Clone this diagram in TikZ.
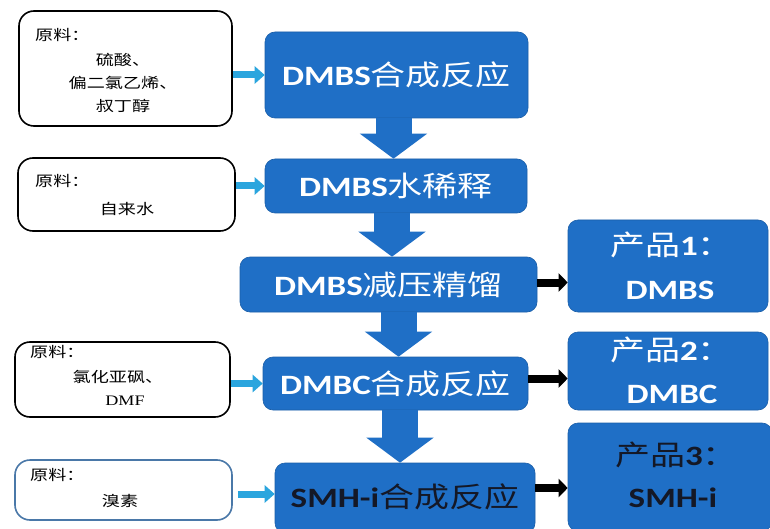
\documentclass[tikz,border=0pt]{standalone}
\usepackage{fontspec}
\usepackage{graphicx}
\setmainfont{Carlito}
\newfontfamily\cjk{Noto Sans CJK SC}
\newfontfamily\lserif{Liberation Serif}
\usetikzlibrary{arrows.meta,calc}
\definecolor{boxblue}{HTML}{1F6FC6}
\definecolor{arrcyan}{HTML}{2AA5DE}
\definecolor{inborder}{HTML}{4A78A8}
\definecolor{darktext}{HTML}{141826}
\newcommand{\stretchx}[1]{\scalebox{1.25}[1]{#1}}
\begin{document}
\begin{tikzpicture}[x=1pt,y=-1pt,
  bluebox/.style={fill=boxblue, draw=boxblue!85!black, line width=0.6pt, rounded corners=10pt, inner sep=0pt},
  inbox/.style={draw=black, line width=1.6pt, rounded corners=15pt, fill=white, inner sep=0pt},
  bigtext/.style={inner sep=0pt, text=white, font=\fontsize{28}{30}\selectfont},
  smalltext/.style={inner sep=0pt, text=black, font=\fontsize{14.5}{23}\selectfont},
  flowarrow/.style={draw=boxblue, line width=36pt, -{Triangle[width=66pt,length=25pt]}},
  feedarrow/.style={draw=arrcyan, line width=7pt, -{Triangle[width=17pt,length=10pt]}},
  outarrow/.style={draw=black, line width=8pt, -{Triangle[width=18pt,length=9pt]}}]
\useasboundingbox (0,0) rectangle (770,529);
\fill[white] (0,0) rectangle (770,529);

% input boxes
\node[inbox, minimum width=213pt, minimum height=115pt] (L1) at (125.5,68.5) {};
\node[inbox, minimum width=217pt, minimum height=73pt] (L2) at (126.5,194.5) {};
\node[inbox, minimum width=215pt, minimum height=75pt] (L3) at (122.5,379.5) {};
\node[inbox, draw=inborder, minimum width=217pt, minimum height=60pt] (L4) at (123.5,490) {};

\node[smalltext, anchor=west] (L1a) at (35,35) {\stretchx{\cjk 原料：}};
\node[smalltext] (L1b) at (123,84) {\stretchx{\cjk\begin{tabular}{@{}c@{}}硫酸、\\偏二氯乙烯、\\叔丁醇\end{tabular}}};
\node[smalltext, anchor=west] (L2a) at (35,181) {\stretchx{\cjk 原料：}};
\node[smalltext] (L2b) at (127,209) {\stretchx{\cjk 自来水}};
\node[smalltext, anchor=west] (L3a) at (30,352) {\stretchx{\cjk 原料：}};
\node[smalltext] (L3b) at (118,377) {\stretchx{\cjk 氯化亚砜、}};
\node[smalltext] (L3c) at (125,401) {\stretchx{\lserif DMF}};
\node[smalltext, anchor=west] (L4a) at (30,475) {\stretchx{\cjk 原料：}};
\node[smalltext] (L4b) at (120,501) {\stretchx{\cjk 溴素}};

% process boxes
\node[bluebox, minimum width=263pt, minimum height=86pt] (A) at (396.5,75) {};
\node[bluebox, minimum width=262pt, minimum height=54pt] (B) at (396,186) {};
\node[bluebox, minimum width=297pt, minimum height=55pt] (C) at (388.5,284.5) {};
\node[bluebox, minimum width=265pt, minimum height=53pt] (D) at (395.5,383.5) {};
\node[bluebox, minimum width=260pt, minimum height=70pt] (E) at (405,498) {};

\node[bigtext] (At) at (A.center) {\stretchx{\bfseries DMBS{\mdseries\cjk 合成反应}}};
\node[bigtext] (Bt) at (B.center) {\stretchx{\bfseries DMBS{\mdseries\cjk 水稀释}}};
\node[bigtext] (Ct) at (C.center) {\stretchx{\bfseries DMBS{\mdseries\cjk 减压精馏}}};
\node[bigtext] (Dt) at (D.center) {\stretchx{\bfseries DMBC{\mdseries\cjk 合成反应}}};
\node[bigtext, text=darktext] (Et) at (405,497) {\stretchx{\bfseries SMH-i{\mdseries\cjk 合成反应}}};

% product boxes
\node[bluebox, minimum width=200pt, minimum height=92pt] (P1) at (668,266) {};
\node[bluebox, minimum width=200pt, minimum height=78pt] (P2) at (668,371) {};
\node[bluebox, minimum width=204pt, minimum height=108pt] (P3) at (670,477) {};

\node[bigtext, anchor=west] (P1a) at (610,245) {\stretchx{{\cjk 产品}\textbf{1}{\cjk ：}}};
\node[bigtext] (P1b) at (670,290) {\stretchx{\bfseries DMBS}};
\node[bigtext, anchor=west] (P2a) at (610,350) {\stretchx{{\cjk 产品}\textbf{2}{\cjk ：}}};
\node[bigtext] (P2b) at (672,394) {\stretchx{\bfseries DMBC}};
\node[bigtext, text=darktext, anchor=west] (P3a) at (615,455) {\stretchx{{\cjk 产品}\textbf{3}{\cjk ：}}};
\node[bigtext, text=darktext] (P3b) at (673,498) {\stretchx{\bfseries SMH-i}};

% flow arrows
\draw[flowarrow] ([xshift=-3pt]A.south) -- ([xshift=-3pt]A.south |- B.north);
\draw[flowarrow] ([xshift=-4pt]B.south) -- ([xshift=-4pt]B.south |- C.north);
\draw[flowarrow] ([xshift=10pt]C.south) -- ([xshift=10pt]C.south |- D.north);
\draw[flowarrow] ([xshift=4.5pt]D.south) -- ([xshift=4.5pt]D.south |- E.north);

% feed arrows
\draw[feedarrow] (L1.east |- A.west) -- (A.west);
\draw[feedarrow] (L2.east |- B.west) -- (B.west);
\draw[feedarrow] (L3.east |- D.west) -- (D.west);
\draw[feedarrow] ([xshift=5pt,yshift=4pt]L4.east |- E.west) -- ([yshift=4pt]E.west);

% output arrows
\draw[outarrow] ([yshift=2pt]C.east) -- ([yshift=2pt]C.east -| P1.west);
\draw[outarrow] ([yshift=5pt]D.east) -- ([yshift=5pt]D.east -| P2.west);
\draw[outarrow] ([yshift=10pt]E.east) -- ([yshift=10pt]E.east -| P3.west);
\end{tikzpicture}
\end{document}
